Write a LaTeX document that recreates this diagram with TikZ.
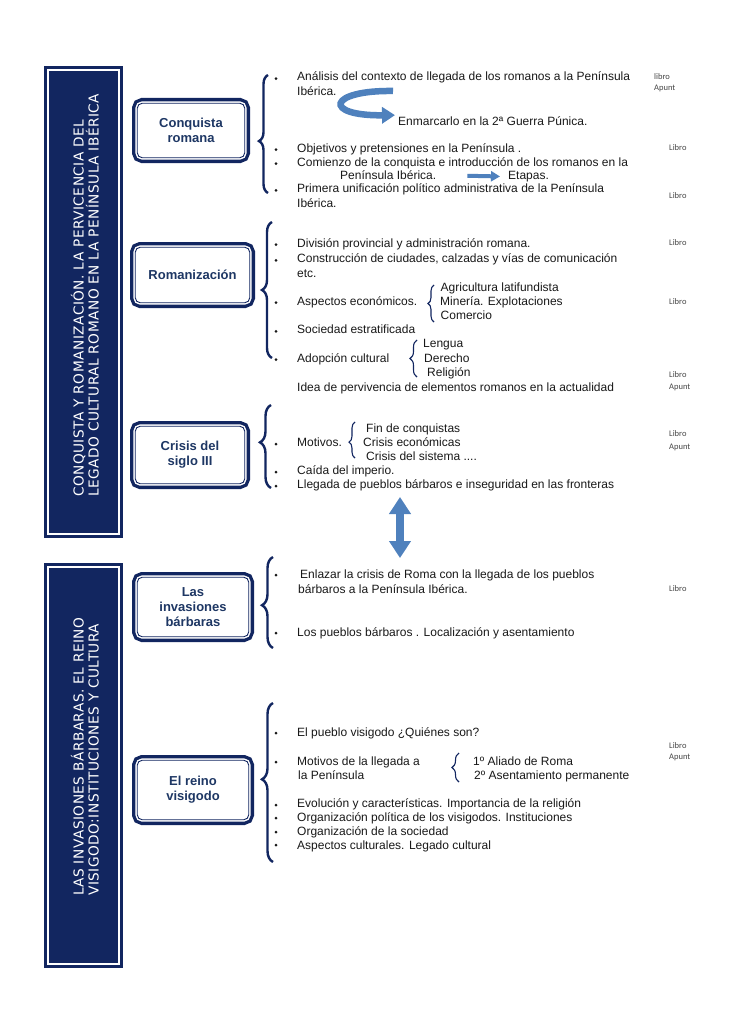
\documentclass[tikz,border=0pt]{standalone}
\usepackage{fontspec}
\setmainfont{Liberation Sans}
\newfontfamily\bannerfont[LetterSpace=3.5]{DejaVu Sans}
\newfontfamily\notefont{Carlito}
\usepackage{tikz}
\usetikzlibrary{arrows.meta,positioning,calc,decorations.pathreplacing}
\definecolor{navy}{RGB}{18,38,96}
\definecolor{boxink}{RGB}{30,55,100}
\definecolor{ink}{RGB}{25,25,25}
\definecolor{notegray}{RGB}{70,70,70}
\definecolor{arrowblue}{RGB}{79,129,189}
\tikzset{
  banner/.style     = {fill=navy, draw=white, line width=1.1pt, inner sep=0pt,
                       preaction={draw=navy, line width=8pt}},
  bannertxt/.style  = {rotate=90, anchor=base west, inner sep=0pt, text=white,
                       font=\bannerfont\fontsize{13.7}{15}\selectfont},
  topic/.style      = {rounded corners=5pt, fill=white, draw=navy, line width=0.9pt,
                       preaction={draw=navy, line width=10.5pt},
                       preaction={draw=white, line width=3.8pt},
                       align=center, inner sep=0pt, text=boxink,
                       font=\bfseries\fontsize{13}{15}\selectfont},
  item/.style       = {anchor=base west, inner sep=0pt, text=ink,
                       font=\fontsize{12}{14}\selectfont},
  note/.style       = {anchor=base west, inner sep=0pt, text=notegray,
                       font=\notefont\fontsize{8.5}{10}\selectfont},
  bigbrace/.style   = {decorate, draw=navy, line width=2.4pt},
  smallbrace/.style = {decorate, decoration={brace, amplitude=6pt}, draw=navy, line width=1.1pt},
  curvearrow/.style = {draw=arrowblue, line width=6.5pt, -{Triangle[length=13pt, width=16pt]}},
  flatarrow/.style  = {draw=arrowblue, line width=4pt, -{Triangle[length=9pt, width=10pt]}},
  dblarrow/.style   = {draw=arrowblue, line width=8pt,
                       {Triangle[length=17pt, width=21pt]}-{Triangle[length=17pt, width=21pt]}},
}

\begin{document}
\begin{tikzpicture}[x=1pt, y=-1pt]
\path[use as bounding box, fill=white] (0,0) rectangle (728,1030);

% Banners on the left
\node[banner, minimum width=71pt, minimum height=464pt] (ban1) at (83.5,302) {};
\node[bannertxt] (ban1a) at (83.5,497) {CONQUISTA Y ROMANIZACIÓN. LA PERVICENCIA DEL};
\node[bannertxt] (ban1b) at (98.5,497) {LEGADO CULTURAL ROMANO EN LA PENÍNSULA IBÉRICA};
\node[banner, minimum width=71pt, minimum height=397pt] (ban2) at (83.5,765.5) {};
\node[bannertxt] (ban2a) at (83.5,896) {LAS INVASIONES BÁRBARAS. EL REINO};
\node[bannertxt] (ban2b) at (98.5,896) {VISIGODO:INSTITUCIONES Y CULTURA};

% Topic boxes
\node[topic, minimum width=107.5pt, minimum height=54.5pt] (conq) at (191,130.5) {Conquista\\romana};
\node[topic, minimum width=114.5pt, minimum height=55.5pt] (roman) at (192.5,275) {Romanización};
\node[topic, minimum width=109.5pt, minimum height=57.5pt] (crisis) at (190,455) {Crisis del\\siglo III};
\node[topic, minimum width=111.5pt, minimum height=59.5pt] (invas) at (193,607) {Las\\invasiones\\bárbaras};
\node[topic, minimum width=111.5pt, minimum height=59.5pt] (visig) at (193,790) {El reino\\visigodo};

% Big braces
\draw[bigbrace, decoration={brace, amplitude=9pt, aspect=0.44}] (268,193) -- (268,75);
\draw[bigbrace, decoration={brace, amplitude=10pt, aspect=0.5}] (272,358) -- (272,222);
\draw[bigbrace, decoration={brace, amplitude=11pt, aspect=0.55}] (271,488) -- (271,405);
\draw[bigbrace, decoration={brace, amplitude=11pt, aspect=0.47}] (273,648) -- (273,557);
\draw[bigbrace, decoration={brace, amplitude=11pt, aspect=0.52}] (273,862) -- (273,703);

% Bullets
\foreach \y in {78.7,149.7,163.7,190.3,244.7,260.3,302.7,331.3,359.7,444,472,486,575,633,733,762,805,818,832,845}
  \fill[ink] (276,\y) circle (1.5pt);

% Conquista romana
\node[item] (s1a) at (297,81) {Análisis del contexto de llegada de los romanos a la Península};
\node[item] (s1b) at (297,96) {Ibérica.};
\node[item] (enm) at (398,125.5) {Enmarcarlo en la 2ª Guerra Púnica.};
\node[item] (s1c) at (297,152) {Objetivos y pretensiones en la Península .};
\node[item] (s1d) at (297,166) {Comienzo de la conquista e introducción de los romanos en la};
\node[item] (penib) at (340,179.5) {Península Ibérica.};
\node[item] (etap) at (508,179.5) {Etapas.};
\node[item] (s1e) at (297,192.5) {Primera unificación político administrativa de la Península};
\node[item] (s1f) at (297,207) {Ibérica.};
\coordinate (ctail) at (393,91);
\draw[curvearrow] (ctail) .. controls (328,90) and (322,116) .. ($(enm.west)+(-3pt,6pt)$);
\draw[flatarrow, shorten <=31pt, shorten >=8pt] (penib.east) -- (etap.west);

% Romanizacion
\node[item] (s2a) at (297,247) {División provincial y administración romana.};
\node[item] (s2b) at (297,262.5) {Construcción de ciudades, calzadas y vías de comunicación};
\node[item] (s2c) at (297,277.5) {etc.};
\node[item] (s2d) at (297,305) {Aspectos económicos.};
\node[item] (eco1) at (440.5,291.5) {Agricultura latifundista};
\node[item] (eco2) at (440,305) {Minería. Explotaciones};
\node[item] (eco3) at (440.5,319) {Comercio};
\draw[smallbrace] (434,322) -- (434,285);
\node[item] (s2e) at (297,333.5) {Sociedad estratificada};
\node[item] (s2f) at (297,362) {Adopción cultural};
\node[item] (cul1) at (423,347) {Lengua};
\node[item] (cul2) at (424,362) {Derecho};
\node[item] (cul3) at (427,376.5) {Religión};
\draw[smallbrace, decoration={amplitude=7pt}] (417,377) -- (417,340);
\node[item] (s2g) at (297,391) {Idea de pervivencia de elementos romanos en la actualidad};

% Crisis del siglo III
\node[item] (s3a) at (297,446.5) {Motivos.};
\node[item] (mot1) at (366,432.5) {Fin de conquistas};
\node[item] (mot2) at (363,446.5) {Crisis económicas};
\node[item] (mot3) at (366,460.5) {Crisis del sistema ....};
\draw[smallbrace, decoration={aspect=0.44}] (355,458) -- (355,422);
\node[item] (s3b) at (297,474.5) {Caída del imperio.};
\node[item] (s3c) at (297,488.5) {Llegada de pueblos bárbaros e inseguridad en las fronteras};

% link between both parts
\coordinate (dtop) at (400,497);
\coordinate (dbot) at (400,558);
\draw[dblarrow] (dtop) -- (dbot);

% Las invasiones barbaras
\node[item] (s4a) at (300,578.5) {Enlazar la crisis de Roma con la llegada de los pueblos};
\node[item] (s4b) at (298,593) {bárbaros a la Península Ibérica.};
\node[item] (s4c) at (297,636.5) {Los pueblos bárbaros . Localización y asentamiento};

% El reino visigodo
\node[item] (s5a) at (297,736) {El pueblo visigodo ¿Quiénes son?};
\node[item] (s5b) at (297,765) {Motivos de la llegada a};
\node[item] (s5c) at (298,779.5) {la Península};
\node[item] (vis1) at (473,765) {1º Aliado de Roma};
\node[item] (vis2) at (474,779.5) {2º Asentamiento permanente};
\draw[smallbrace, decoration={amplitude=7pt}] (459,782) -- (459,753);
\node[item] (s5d) at (297,807.5) {Evolución y características. Importancia de la religión};
\node[item] (s5e) at (297,821) {Organización política de los visigodos. Instituciones};
\node[item] (s5f) at (297,835.5) {Organización de la sociedad};
\node[item] (s5g) at (297,849.5) {Aspectos culturales. Legado cultural};

% Sources on the right
\node[note] (lib1) at (654,79.5) {libro};
\node[note] (apu1) at (654,91) {Apunt};
\node[note] (lib2) at (669,150.5) {Libro};
\node[note] (lib3) at (669,198.5) {Libro};
\node[note] (lib4) at (669,245) {Libro};
\node[note] (lib5) at (669,304.5) {Libro};
\node[note] (lib6) at (669,377) {Libro};
\node[note] (apu6) at (669,389) {Apunt};
\node[note] (lib7) at (669,436.5) {Libro};
\node[note] (apu7) at (669,449) {Apunt};
\node[note] (lib8) at (669,591) {Libro};
\node[note] (lib9) at (669,748) {Libro};
\node[note] (apu9) at (669,759) {Apunt};
\end{tikzpicture}
\end{document}
